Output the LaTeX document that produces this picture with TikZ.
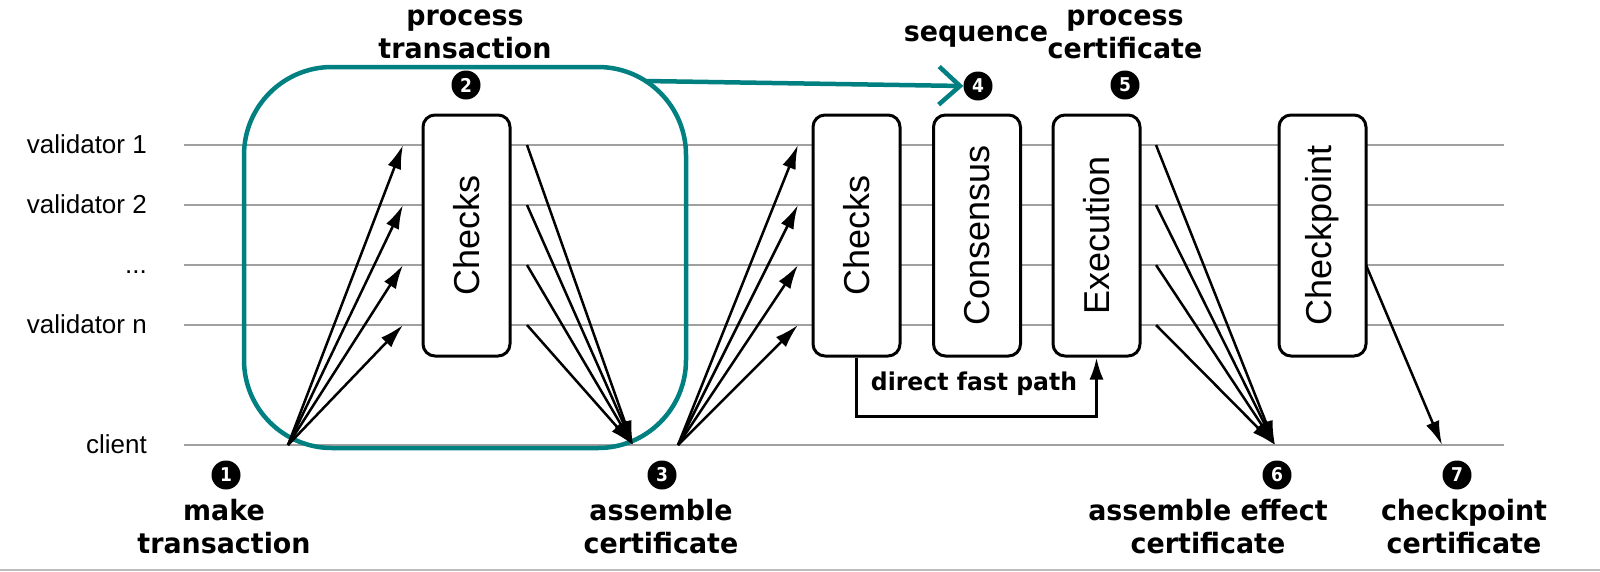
\documentclass[tikz,border=0pt]{standalone}
\usepackage{fontspec}
\setmainfont{Liberation Sans}
\newfontfamily\lbf[FakeStretch=0.96]{DejaVu Sans}
\newfontfamily\nbf[FakeStretch=0.9]{DejaVu Sans}
\usetikzlibrary{arrows.meta}
\definecolor{tealc}{RGB}{0,128,128}
\definecolor{lgray}{RGB}{160,160,160}
\begin{document}
\begin{tikzpicture}[x=1pt,y=-1pt,
  vline/.style={draw=lgray,line width=1.8pt},
  vlab/.style={anchor=base east,inner sep=0pt,font=\fontsize{26}{30}\selectfont},
  box/.style={draw,line width=3pt,rounded corners=12pt,fill=white,minimum width=87pt,minimum height=241pt,inner sep=0pt,font=\fontsize{36}{40}\selectfont},
  msg/.style={-{Latex[length=24pt,width=14pt]},line width=2.5pt},
  num/.style={circle,fill=black,text=white,minimum size=29pt,inner sep=0pt,font=\nbf\bfseries\fontsize{19}{19}\selectfont},
  lbl/.style={align=center,inner sep=0pt,font=\lbf\bfseries\fontsize{28}{33}\selectfont},
  grp/.style={draw=tealc,line width=4.5pt,rounded corners=88pt,minimum width=442pt,minimum height=381pt,inner sep=0pt},
  tarrow/.style={draw=tealc,line width=4.5pt,-{Straight Barb[length=21pt,width=38pt]}},
  fast/.style={line width=3pt,-{Latex[length=22pt,width=14pt]}}]
\useasboundingbox (0,0) rectangle (1600,571);
% swimlanes
\foreach \n/\y/\t in {1/145/validator 1,2/205/validator 2,3/265/{.}{.}{.},4/325/validator n,5/445/client}{
  \coordinate (ls\n) at (184,\y);
  \coordinate (le\n) at (1504,\y);
  \draw[vline] (ls\n) -- (le\n);
  \node[vlab] (lab\n) at (147,\y+8) {\t};
}
\coordinate (bl) at (0,570);
\coordinate (br) at (1600,570);
\draw[draw=lgray!70,line width=2pt] (bl) -- (br);
% group
\node[grp] (grp) at (465,257.5) {};
% boxes
\node[box] (chk1) at (466.5,235.5) {\rotatebox{90}{Checks}};
\node[box] (chk2) at (856.5,235.5) {\rotatebox{90}{Checks}};
\node[box] (cons) at (977,235.5) {\rotatebox{90}{Consensus}};
\node[box] (exec) at (1096.5,235.5) {\rotatebox{90}{Execution}};
\node[box] (ckpt) at (1322.5,235.5) {\rotatebox{90}{Checkpoint}};
% arrow end points
\foreach \i/\y in {1/145,2/205,3/265,4/325}{
  \coordinate (a\i) at (403,\y);
  \coordinate (b\i) at (527,\y);
  \coordinate (c\i) at (798,\y);
  \coordinate (d\i) at (1156,\y);
}
\coordinate (p1) at (288,445);
\coordinate (p3a) at (633,445);
\coordinate (p3b) at (678,445);
\coordinate (p6) at (1275,445);
\coordinate (ck) at (1366,265);
\coordinate (p7) at (1442,445);
\foreach \i in {1,2,3,4}{
  \draw[msg] (p1) -- (a\i);
  \draw[msg] (b\i) -- (p3a);
  \draw[msg] (p3b) -- (c\i);
  \draw[msg] (d\i) -- (p6);
}
\draw[msg] (ck) -- (p7);
% direct fast path
\draw[fast] (chk2.south) -- ++(0,59) -| (exec.south);
\node[lbl,font=\lbf\bfseries\fontsize{24.5}{30}\selectfont] (dfp) at (974,384) {direct fast path};
% numbered circles
\node[num] (n1) at (226,475) {1};
\node[num] (n2) at (466,85) {2};
\node[num] (n3) at (662,475) {3};
\node[num] (n4) at (978,86) {4};
\node[num] (n5) at (1125,85) {5};
\node[num] (n6) at (1277,475) {6};
\node[num] (n7) at (1457,475) {7};
% teal arrow
\coordinate (tstart) at (645,81);
\draw[tarrow] (tstart) -- (n4.west);
% labels
\node[lbl] (t2) at (465,34) {process\\transaction};
\node[lbl] (t4) at (976,37) {sequence};
\node[lbl] (t5) at (1125,34) {process\\certificate};
\node[lbl] (t1) at (224,527) {make\\transaction};
\node[lbl] (t3) at (661,527) {assemble\\certificate};
\node[lbl] (t6) at (1208,527) {assemble effect\\certificate};
\node[lbl] (t7) at (1464,527) {checkpoint\\certificate};
\end{tikzpicture}
\end{document}
